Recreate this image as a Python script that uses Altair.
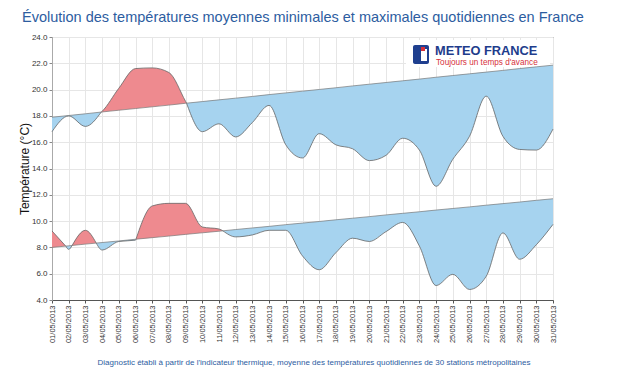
import json
import altair as alt
import pandas as pd

# ---------------- data ----------------
days = list(range(1, 32))
date_labels = [
    "01/05/2013", "02/05/2013", "03/05/2013", "04/05/2013", "05/05/2013", "06/05/2013",
    "07/05/2013", "08/05/2013", "09/05/2013", "10/05/2013", "11/05/2013", "12/05/2013",
    "13/05/2013", "14/05/2013", "15/05/2013", "16/05/2013", "17/05/2013", "18/05/2013",
    "19/05/2013", "20/05/2013", "21/05/2013", "22/05/2013", "23/05/2013", "24/05/2013",
    "25/05/2013", "26/05/2013", "27/05/2013", "28/05/2013", "29/05/2013", "30/05/2013",
    "31/05/2013",
]
tmax = [16.8, 18.0, 17.2, 18.35, 20.1, 21.6, 21.65, 21.3, 19.1, 16.8, 17.4, 16.4, 17.5,
        18.8, 15.8, 14.8, 16.65, 15.8, 15.5, 14.6, 15.0, 16.3, 15.4, 12.65, 14.7, 16.45,
        19.5, 16.45, 15.45, 15.4, 17.0]
tmax_normal = [17.90, 18.03, 18.16, 18.30, 18.43, 18.56, 18.69, 18.82, 18.96, 19.09, 19.22,
               19.35, 19.48, 19.62, 19.75, 19.88, 20.01, 20.14, 20.28, 20.41, 20.54, 20.67,
               20.80, 20.94, 21.07, 21.20, 21.33, 21.46, 21.60, 21.73, 21.86]
tmin = [9.25, 7.85, 9.3, 7.8, 8.45, 8.55, 11.15, 11.35, 11.35, 9.55, 9.4, 8.8, 8.95, 9.3,
        9.3, 7.35, 6.3, 7.6, 8.7, 8.45, 9.2, 9.9, 8.1, 5.1, 5.95, 4.8, 5.8, 9.1, 7.1, 8.2,
        9.75]
tmin_normal = [8.00, 8.12, 8.25, 8.37, 8.49, 8.62, 8.74, 8.86, 8.99, 9.11, 9.23, 9.36, 9.48,
               9.60, 9.73, 9.85, 9.97, 10.10, 10.22, 10.34, 10.47, 10.59, 10.71, 10.84,
               10.96, 11.08, 11.21, 11.33, 11.45, 11.58, 11.70]
y_ticks = [4, 6, 8, 10, 12, 14, 16, 18, 20, 22, 24]

title_text = "Évolution des températures moyennes minimales et maximales quotidiennes en France"
footer_text = ("Diagnostic établi à partir de l'indicateur thermique, moyenne des "
               "températures quotidiennes de 30 stations métropolitaines")

RED = "#EE8A8F"
BLUE = "#A6D3EF"


def split_pieces(values, normals, series, seg_start):
    """Split the series into pieces lying above / below the normal, cut at crossings."""
    rows = []
    seg = seg_start
    cur = "above" if values[0] >= normals[0] else "below"
    rows.append(dict(day=days[0], v=values[0], n=normals[0], seg=seg, side=cur, series=series))
    for i in range(len(days) - 1):
        d0 = values[i] - normals[i]
        d1 = values[i + 1] - normals[i + 1]
        nxt = "above" if d1 >= 0 else "below"
        if nxt != cur:
            if d0 * d1 < 0:
                t = d0 / (d0 - d1)
                x = days[i] + t
                y = normals[i] + t * (normals[i + 1] - normals[i])
            else:
                x, y = days[i], normals[i]
            rows.append(dict(day=x, v=y, n=y, seg=seg, side=cur, series=series))
            seg += 1
            cur = nxt
            rows.append(dict(day=x, v=y, n=y, seg=seg, side=cur, series=series))
        rows.append(dict(day=days[i + 1], v=values[i + 1], n=normals[i + 1], seg=seg,
                         side=cur, series=series))
    return rows, seg + 1


rows_max, nxt_seg = split_pieces(tmax, tmax_normal, "max", 0)
rows_min, _ = split_pieces(tmin, tmin_normal, "min", nxt_seg)
pieces = pd.DataFrame(rows_max + rows_min)

normals = pd.DataFrame({
    "day": days + days,
    "n": tmax_normal + tmin_normal,
    "series": ["max"] * len(days) + ["min"] * len(days),
})

one = pd.DataFrame({"a": [0]})

label_expr = json.dumps(date_labels) + "[datum.value - 1]"

x_scale = alt.Scale(domain=[1, 31], nice=False, zero=False)
y_scale = alt.Scale(domain=[4, 24], nice=False, zero=False)
x_axis = alt.Axis(values=days, labelExpr=label_expr, labelAngle=270, labelFontSize=7.5,
                  labelFont="Liberation Sans", labelColor="#333", labelPadding=2,
                  tickSize=3, tickColor="#555", domainColor="#555", gridColor="#e6e6e6",
                  title=None, labelOverlap=False)
y_axis = alt.Axis(values=y_ticks, format=".1f", labelFontSize=8, labelFont="Liberation Sans",
                  labelColor="#333", labelPadding=2, tickSize=3, tickColor="#888",
                  domainColor="#aaa", gridColor="#e6e6e6", labelOverlap=False,
                  title="Température (°C)", titleFont="Liberation Sans", titleFontSize=12,
                  titleFontWeight="normal", titleColor="#111", titlePadding=0)

x_enc = alt.X("day:Q", scale=x_scale, axis=x_axis)
y_enc = alt.Y("v:Q", scale=y_scale, axis=y_axis)
yn_enc = alt.Y("n:Q", scale=y_scale, axis=y_axis)

logo_bg = alt.Chart(one).mark_rect(color="white").encode(
    x=alt.value(354), x2=alt.value(498), y=alt.value(3), y2=alt.value(30))

areas = alt.Chart(pieces).mark_area(interpolate="monotone", opacity=1).encode(
    x=x_enc,
    y=y_enc,
    y2="n:Q",
    color=alt.Color("side:N", scale=alt.Scale(domain=["above", "below"], range=[RED, BLUE]),
                    legend=None),
    detail="seg:N",
)

lines = alt.Chart(pieces).mark_line(interpolate="monotone", color="#666",
                                    strokeWidth=0.8).encode(
    x=x_enc, y=y_enc, detail="seg:N")

normal_lines = alt.Chart(normals).mark_line(color="#777", strokeWidth=0.7).encode(
    x=x_enc, y=yn_enc, detail="series:N")

logo_icon = alt.Chart(one).mark_rect(color="#1f3f8f", cornerRadius=2).encode(
    x=alt.value(361), x2=alt.value(377), y=alt.value(8), y2=alt.value(27))
logo_icon_w = alt.Chart(one).mark_rect(color="white").encode(
    x=alt.value(369), x2=alt.value(375), y=alt.value(12), y2=alt.value(24))
logo_icon_r = alt.Chart(one).mark_rect(color="#d6303a").encode(
    x=alt.value(369), x2=alt.value(373), y=alt.value(10), y2=alt.value(14))

logo_name = alt.Chart(one).mark_text(
    text="METEO FRANCE", font="Liberation Sans", fontSize=12.8, fontWeight="bold",
    color="#1e3c8c", align="left", baseline="alphabetic").encode(
    x=alt.value(383), y=alt.value(17.5))
logo_tag = alt.Chart(one).mark_text(
    text="Toujours un temps d'avance", font="Liberation Sans", fontSize=8.2,
    color="#d6303a", align="left", baseline="alphabetic").encode(
    x=alt.value(384), y=alt.value(28))

title = alt.Chart(one).mark_text(
    text=title_text, font="Liberation Sans", fontSize=14.5, color="#2d5d9f",
    align="left", baseline="alphabetic").encode(
    x=alt.value(-30), y=alt.value(-15))

footer = alt.Chart(one).mark_text(
    text=footer_text, font="Liberation Sans", fontSize=8, color="#2d5d9f",
    align="center", baseline="alphabetic").encode(
    x=alt.value(262), y=alt.value(328))

chart = alt.layer(
    logo_bg, areas, lines, normal_lines, logo_icon, logo_icon_w, logo_icon_r,
    logo_name, logo_tag, title, footer,
).properties(
    width=501, height=263,
    padding={"left": 44, "top": 29, "right": 56, "bottom": 67},
    autosize=alt.AutoSizeParams(type="none"),
    background="white",
).configure_view(
    stroke="#555", strokeWidth=1
).configure_axis(
    labelOverlap=False
)

chart.save("out.html", embed_options={"renderer": "svg", "actions": False})
